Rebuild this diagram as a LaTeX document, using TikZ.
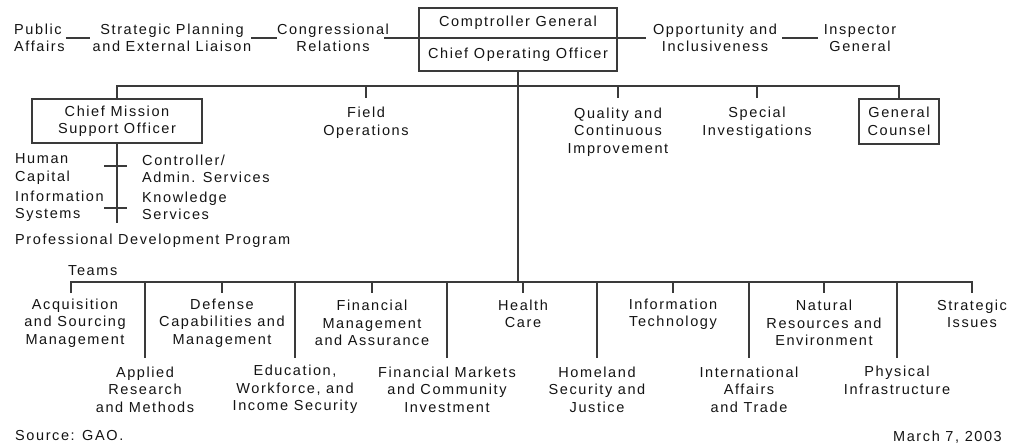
\documentclass[tikz,border=0pt]{standalone}
\usepackage{fontspec}
\setmainfont{Liberation Sans}[LetterSpace=11]
\definecolor{txt}{HTML}{141414}
\definecolor{lc}{HTML}{3A3A3A}
\newcommand\chartfs{\fontsize{14.5}{17.5}\selectfont}
\tikzset{
  lbl/.style={align=center, inner sep=0pt, font=\chartfs, text=txt},
  lbll/.style={align=left, inner sep=0pt, font=\chartfs, text=txt},
  boxn/.style={draw=lc, line width=1.3pt, inner sep=0pt, align=center, font=\chartfs, text=txt},
  conn/.style={draw=lc, line width=1.2pt}
}
\begin{document}
\begin{tikzpicture}[x=1pt,y=-1pt]
\useasboundingbox (0,0) rectangle (1025,447);
\fill[white] (0,0) rectangle (1025,447);
% helper levels
\coordinate (bus1) at (0,86);
\coordinate (tick1) at (0,98);
\coordinate (bus2) at (0,282);
\coordinate (t2a) at (0,293);
\coordinate (t2b) at (0,358);
\coordinate (cmend) at (0,223);
\coordinate (k1l) at (104,166);
\coordinate (k1r) at (127,166);
\coordinate (k2l) at (104,208);
\coordinate (k2r) at (127,208);

% top row
\node[lbll, anchor=west] (pa) at (14,38) {Public\\Affairs};
\node[lbl] (sp) at (172,38) {Strategic Planning\\and External Liaison};
\node[lbl] (cr) at (333,38) {Congressional\\Relations};
\node[boxn, minimum width=198pt, minimum height=30pt] (cg) at (518,23) {Comptroller General};
\node[boxn, minimum width=198pt, minimum height=33pt] (coo) at (518,54.5) {Chief Operating Officer};
\node[lbl] (oi) at (715,38) {Opportunity and\\Inclusiveness};
\node[lbl] (ig) at (860,38) {Inspector\\General};

\draw[conn] ([xshift=1pt]pa.east) -- ([xshift=-3pt]sp.west);
\draw[conn] (sp.east) -- (cr.west);
\draw[conn] ([xshift=-5pt]cr.east) -- (cr.east -| cg.west);
\draw[conn] (oi.west -| cg.east) -- ([xshift=-7pt]oi.west);
\draw[conn] ([xshift=5pt]oi.east) -- ([xshift=-6pt]ig.west);

% second level
\node[boxn, minimum width=170pt, minimum height=44pt] (cmso) at (117,121) {Chief Mission\\Support Officer};
\node[lbl] (fo) at (366,123) {Field\\Operations};
\node[lbl] (qci) at (618,132) {Quality and\\Continuous\\Improvement};
\node[lbl] (spi) at (757,123) {Special\\Investigations};
\node[boxn, minimum width=80pt, minimum height=45pt] (gc) at (899,121.5) {General\\Counsel};

\draw[conn] (cmso.north) -- (cmso.north |- bus1) -- (gc.north |- bus1) -- (gc.north);
\draw[conn] (fo.north |- bus1) -- (fo.north |- tick1);
\draw[conn] (qci.north |- bus1) -- (qci.north |- tick1);
\draw[conn] (spi.north |- bus1) -- (spi.north |- tick1);

% support units
\node[lbll, anchor=west] (hc) at (15,169) {Human\\Capital};
\node[lbll, anchor=west] (is) at (15,206) {Information\\Systems};
\node[lbll, anchor=west] (ca) at (142,169) {Controller/\\Admin. Services};
\node[lbll, anchor=west] (ks) at (142,206) {Knowledge\\Services};
\node[lbll, anchor=west] (pdp) at (15,241) {Professional Development Program};
\draw[conn] (cmso.south) -- (cmso.south |- cmend);
\draw[conn] (k1l) -- (k1r);
\draw[conn] (k2l) -- (k2r);

% teams
\node[lbll, anchor=west] (teams) at (68,271) {Teams};
\node[lbl] (acq) at (75,323) {Acquisition\\and Sourcing\\Management};
\node[lbl] (dcm) at (222,323) {Defense\\Capabilities and\\Management};
\node[lbl] (fma) at (372,323) {Financial\\Management\\and Assurance};
\node[lbl] (hca) at (523,314) {Health\\Care};
\node[lbl] (it) at (673,314) {Information\\Technology};
\node[lbl] (nre) at (824,323) {Natural\\Resources and\\Environment};
\node[lbl] (si) at (972,314) {Strategic\\Issues};

\node[lbl] (arm) at (145,389.5) {Applied\\Research\\and Methods};
\node[lbl] (ewi) at (295,389.5) {Education,\\Workforce, and\\Income Security};
\node[lbl] (fmci) at (447,389.5) {Financial Markets\\and Community\\Investment};
\node[lbl] (hsj) at (597,389.5) {Homeland\\Security and\\Justice};
\node[lbl] (iat) at (749,389.5) {International\\Affairs\\and Trade};
\node[lbl] (pi) at (897,380.5) {Physical\\Infrastructure};

\draw[conn] (coo.south) -- (coo.south |- bus2);
\draw[conn] ([xshift=-4pt]acq.north |- t2a) -- ([xshift=-4pt]acq.north |- bus2) -- (si.north |- bus2) -- (si.north |- t2a);
\foreach \n in {dcm,fma,hca,it,nre}
  \draw[conn] (\n.north |- bus2) -- (\n.north |- t2a);
\foreach \n in {arm,ewi,fmci,hsj,iat,pi}
  \draw[conn] (\n.north |- bus2) -- (\n.north |- t2b);

% footer
\node[lbll, anchor=west] (src) at (15,436) {Source: GAO.};
\node[lbll, anchor=east] (date) at (1002,437) {March 7, 2003};
\end{tikzpicture}
\end{document}
